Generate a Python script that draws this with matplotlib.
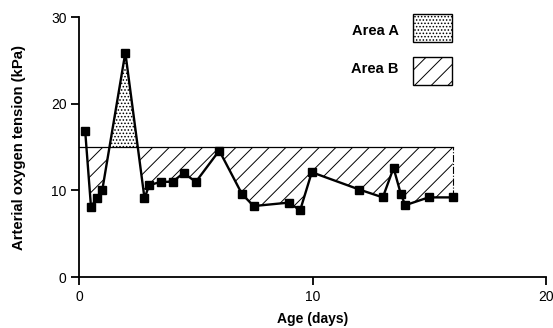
import numpy as np
import matplotlib
matplotlib.use('Agg')
import matplotlib.pyplot as plt
from matplotlib.patches import Rectangle

# values
age_days = [0.26, 0.51, 0.75, 0.99, 1.98, 2.8, 3.0, 3.5, 4.0, 4.47, 5.0, 6.0,
            6.97, 7.47, 8.98, 9.46, 9.96, 12.0, 13.0, 13.46, 13.77, 13.96, 14.96, 15.99]
pao2_kpa = [16.9, 8.1, 9.1, 10.0, 25.9, 9.1, 10.6, 11.0, 11.0, 12.0, 11.0, 14.6,
            9.6, 8.2, 8.6, 7.7, 12.1, 10.1, 9.2, 12.6, 9.6, 8.3, 9.2, 9.2]
threshold = 15
xticks = [0, 10, 20]
yticks = [0, 10, 20, 30]

plt.rcParams['font.family'] = ['Liberation Sans', 'DejaVu Sans']
plt.rcParams['hatch.linewidth'] = 0.7

fig = plt.figure(figsize=(5.53, 3.28), dpi=100)
ax = fig.add_axes([0.143, 0.155, 0.845, 0.793])

x = np.array(age_days); y = np.array(pao2_kpa)
# area A: above threshold (stipple), area B: below threshold (hatched)
ax.fill_between(x, y, threshold, where=y > threshold, interpolate=True,
                facecolor='white', edgecolor='black', hatch='.....', linewidth=0)
ax.fill_between(x, y, threshold, where=y < threshold, interpolate=True,
                facecolor='white', edgecolor='black', hatch='//', linewidth=0)
ax.plot([-0.25, x[-1]], [threshold, threshold], color='black', lw=0.9)
ax.plot([x[-1], x[-1]], [y[-1], threshold], color='black', lw=0.8, ls='-.')
ax.plot(x, y, color='black', lw=1.7, marker='s', ms=6, mfc='black', mec='black')

ax.set_xlim(0, 20); ax.set_ylim(0, 30)
ax.set_xticks(xticks); ax.set_yticks(yticks)
ax.spines['top'].set_visible(False); ax.spines['right'].set_visible(False)
ax.spines['left'].set_bounds(0, 30); ax.spines['bottom'].set_bounds(0, 20)
for s in ('left', 'bottom'):
    ax.spines[s].set_linewidth(1.3)
ax.tick_params(direction='out', length=6, width=1.3, labelsize=10, pad=3)
ax.set_xlabel('Age (days)', fontsize=10, fontweight='bold', labelpad=6)
ax.set_ylabel('Arterial oxygen tension (kPa)', fontsize=10.7, fontweight='bold', labelpad=18)

# legend boxes
fig.text(0.721, 0.905, 'Area A', fontsize=10.5, fontweight='bold', ha='right', va='center')
fig.text(0.721, 0.79, 'Area B', fontsize=10.5, fontweight='bold', ha='right', va='center')
fig.patches.append(Rectangle((0.747, 0.871), 0.071, 0.086, transform=fig.transFigure,
                             facecolor='white', edgecolor='black', lw=1.0, hatch='.....'))
fig.patches.append(Rectangle((0.747, 0.741), 0.071, 0.084, transform=fig.transFigure,
                             facecolor='white', edgecolor='black', lw=1.0, hatch='//'))

fig.savefig('out.png', dpi=100)
